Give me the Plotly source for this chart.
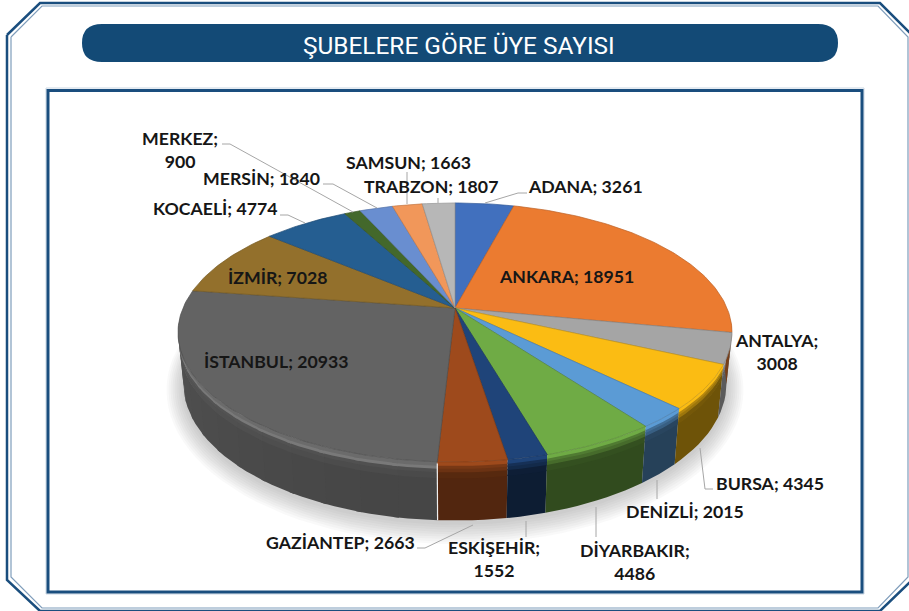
import math
import plotly.graph_objects as go

TITLE = "ŞUBELERE GÖRE ÜYE SAYISI"
categories = ["ADANA", "ANKARA", "ANTALYA", "BURSA", "DENİZLİ", "DİYARBAKIR", "ESKİŞEHİR", "GAZİANTEP",
              "İSTANBUL", "İZMİR", "KOCAELİ", "MERKEZ", "MERSİN", "SAMSUN", "TRABZON"]
values = [3261, 18951, 3008, 4345, 2015, 4486, 1552, 2663, 20933, 7028, 4774, 900, 1840, 1663, 1807]
colors = ["#4170BE", "#EB7B30", "#A5A5A5", "#FBBC13", "#5B9BD5", "#6FAB45", "#1F4479", "#9E4A1C",
          "#636363", "#93702C", "#255E91", "#43682B", "#698ED0", "#F1975A", "#B7B7B7"]
wall_factor = [.5, .5, .55, .44, .42, .44, .42, .52, .70, .6, .5, .5, .5, .5, .5]

# label layout: centre x, centre y, line break after the semicolon or not
label_pos = {
    "ADANA": (585, 186, False), "ANKARA": (566, 276, False), "ANTALYA": (776, 352, True),
    "BURSA": (770, 483, False), "DENİZLİ": (685, 511, False), "DİYARBAKIR": (635, 562, True),
    "ESKİŞEHİR": (494, 559, True), "GAZİANTEP": (340, 542, False), "İSTANBUL": (276, 361, False),
    "İZMİR": (277, 277, False), "KOCAELİ": (215, 208, False), "MERKEZ": (180, 150, True),
    "MERSİN": (261, 178, False), "SAMSUN": (408, 162, False), "TRABZON": (431, 186, False),
}
leaders = [
    [(527, 193), (518, 193), (485, 203)], [(713, 489), (705, 489), (700, 448)],
    [(657, 499), (657, 480)], [(596, 537), (596, 507)], [(526, 537), (526, 521)],
    [(417, 548), (425, 548), (473, 525)], [(280, 215), (288, 215), (305, 223)],
    [(222, 144), (230, 144), (353, 212)], [(323, 184), (333, 184), (377, 208)],
    [(407, 172), (407, 204)], [(438, 198), (438, 203)],
]

# Projection of the tilted disc
CX, CY, P, A, B, H = 455.0, 308.0, 0.189, 124.9, 272.0, 50.0
NAVY = "#1A4E7E"


def rim(theta, t=0.0, grow=0.0):
    """Screen position of a rim point: theta clockwise from the top, t = 0 top edge .. 1 bottom edge."""
    a = math.radians(theta)
    w = 1 / (1 + P * math.cos(a))
    shrink = 1 - 0.02 * t
    x = CX + (B + grow) * math.sin(a) * w * shrink
    y = CY - (A + grow) * math.cos(a) * w * shrink + H * t * w
    return x, y


def hexmix(c, f, target=(0, 0, 0)):
    r, g, b = int(c[1:3], 16), int(c[3:5], 16), int(c[5:7], 16)
    return "#%02x%02x%02x" % tuple(int(round(v * f + u * (1 - f))) for v, u in zip((r, g, b), target))


def arange(a0, a1, step=1.0):
    n = max(2, int(abs(a1 - a0) / step) + 1)
    return [a0 + (a1 - a0) * i / (n - 1) for i in range(n)]


fig = go.Figure()


def poly(pts, fill, line=None, width=0.0):
    xs = [p[0] for p in pts] + [pts[0][0]]
    ys = [p[1] for p in pts] + [pts[0][1]]
    fig.add_trace(go.Scatter(x=xs, y=ys, mode="lines", fill="toself", fillcolor=fill,
                             line=dict(color=line or "rgba(0,0,0,0)", width=width),
                             hoverinfo="skip", showlegend=False))


total = sum(values)
edges = [0.0]
for v in values:
    edges.append(edges[-1] + v / total * 360)

# soft shadow below the disc
for g in range(17, 0, -2):
    pts = [(rim(a, 1.0, g)[0], rim(a, 1.0, g)[1] + 3) for a in arange(80, 280, 3)]
    poly(pts, "rgba(90,90,90,0.035)")

# side wall: one flat lower part, then a few narrow strips for the rounded upper edge.
# Each piece overlaps the next one slightly so that no seam shows.
strips = [(.26, 1), (.16, .28), (.10, .18), (.05, .12), (0, .07)]
WALL_FROM, WALL_TO = 95, 265
for i, c in reversed(list(enumerate(colors))):
    a0, a1 = max(edges[i], WALL_FROM), min(edges[i + 1], WALL_TO)
    if a0 >= a1:
        continue
    is_ist = categories[i] == "İSTANBUL"
    seg = 12 if is_ist else 1
    for (k, (t0, t1)) in enumerate(strips):
        for s in range(seg):
            b0 = a0 + (a1 - a0) * s / seg
            b1 = a0 + (a1 - a0) * (s + 1) / seg
            f = wall_factor[i] + (max((b0 + b1) / 2 - 185, 0) / 90) * 0.13
            shades = [hexmix(c, f), hexmix(c, f * 1.06), hexmix(c, (1 + 2 * f) / 3),
                      hexmix(c, .86, (255, 255, 255)) if is_ist else hexmix(c, (1 + f) / 2),
                      hexmix(c, .95, (255, 255, 255)) if is_ist else c]
            ang = arange(b0, min(b1 + (1.0 if s < seg - 1 else 0), a1), 2)
            pts = [rim(a, t0) for a in ang] + [rim(a, t1) for a in reversed(ang)]
            poly(pts, shades[k])

# thin gap on the front of the wall where İSTANBUL begins
ist = categories.index("İSTANBUL")
gx0, gy0 = rim(edges[ist], 0.03)
gx1, gy1 = rim(edges[ist], 1)
fig.add_trace(go.Scatter(x=[gx0, gx1], y=[gy0, gy1], mode="lines", line=dict(color="#eeeeee", width=1.2),
                         hoverinfo="skip", showlegend=False))

# top surface
for i, c in enumerate(colors):
    pts = [(CX, CY)] + [rim(a) for a in arange(edges[i], edges[i + 1], 1)]
    poly(pts, c, hexmix(c, .8), 0.7)

# leader lines
for pts in leaders:
    fig.add_trace(go.Scatter(x=[p[0] for p in pts], y=[p[1] for p in pts], mode="lines",
                             line=dict(color="#a6a6a6", width=1), hoverinfo="skip", showlegend=False))

# frame outlines
outer = [(7, 35), (40, 3), (880, 3), (912, 35), (912, 580), (880, 611), (40, 611), (7, 580)]
inner = [(11, 37), (42, 6), (878, 6), (908, 37), (908, 577), (878, 608), (42, 608), (11, 577)]
fig.add_trace(go.Scatter(x=[p[0] for p in inner] + [inner[0][0]], y=[p[1] for p in inner] + [inner[0][1]],
                         mode="lines", line=dict(color="#7f9dbb", width=1.2), hoverinfo="skip", showlegend=False))
fig.add_trace(go.Scatter(x=[p[0] for p in outer] + [outer[0][0]], y=[p[1] for p in outer] + [outer[0][1]],
                         mode="lines", line=dict(color=NAVY, width=2.5), hoverinfo="skip", showlegend=False))

shapes = [
    dict(type="rect", x0=46, y0=88, x1=864, y1=594, line=dict(color="#c9d6e3", width=1), fillcolor="rgba(0,0,0,0)", layer="below"),
    dict(type="rect", x0=48, y0=90.5, x1=862, y1=592, line=dict(color=NAVY, width=3), fillcolor="rgba(0,0,0,0)", layer="below"),
    dict(type="path", layer="below", fillcolor="#134A76", line=dict(width=0),
         path="M 102 24 L 818 24 Q 838 24 838 43 Q 838 62 818 62 L 102 62 Q 82 62 82 43 Q 82 24 102 24 Z"),
]

annotations = [dict(x=459, y=45, text=TITLE, showarrow=False, xref="x", yref="y",
                    font=dict(family="Roboto", size=24.4, color="white"))]
for name, v in zip(categories, values):
    x, y, brk = label_pos[name]
    sep = "<br>" if brk else " "
    annotations.append(dict(x=x, y=y, xref="x", yref="y", showarrow=False,
                            text=f"<b>{name};{sep}{v}</b>", align="center",
                            font=dict(family="Lato", size=17.7, color="#161616")))

fig.update_layout(
    width=909, height=611, margin=dict(l=0, r=0, t=0, b=0),
    paper_bgcolor="white", plot_bgcolor="white", showlegend=False,
    xaxis=dict(range=[0, 909], visible=False, fixedrange=True),
    yaxis=dict(range=[611, 0], visible=False, fixedrange=True),
    shapes=shapes, annotations=annotations,
)
fig.write_html("out.html", config={"displayModeBar": False},
               post_script="document.body.style.margin='0';document.body.style.overflow='hidden';")
